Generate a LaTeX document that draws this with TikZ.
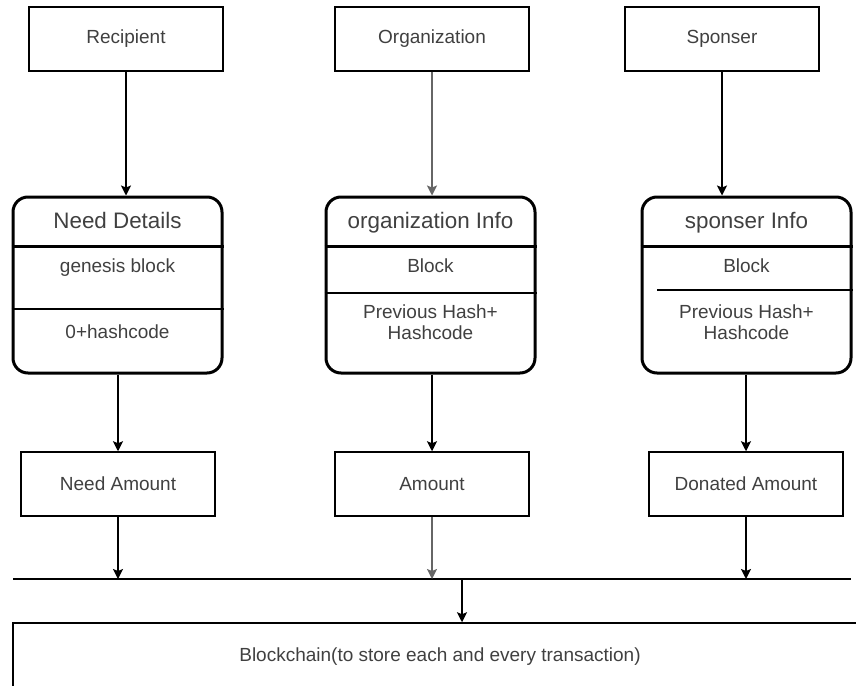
\documentclass[tikz,border=0pt]{standalone}
\usepackage{fontspec}
\setmainfont{Liberation Sans}
\usepackage{tikz}
\usetikzlibrary{arrows.meta}

\tikzset{
  box/.style={draw, line width=1.5pt, minimum width=194pt, minimum height=64pt, inner sep=0pt,
    font=\fontsize{19}{22}\selectfont, text=black!75},
  infobox/.style={draw, line width=3pt, rounded corners=15pt, minimum width=209pt, minimum height=176pt, inner sep=0pt},
  head/.style={font=\fontsize{22.4}{26}\selectfont, text=black!75, inner sep=0pt, text height=16pt, text depth=5pt},
  txt/.style={font=\fontsize{19}{22}\selectfont, text=black!75, inner sep=0pt, text height=14pt, text depth=4pt},
  twoline/.style={font=\fontsize{19}{21}\selectfont, text=black!75, inner sep=0pt, align=center},
  link/.style={line width=1.5pt, -{Stealth[length=10pt,width=10pt,inset=2pt]}}
}

\begin{document}
\begin{tikzpicture}[x=1pt,y=-1pt]
\useasboundingbox (0,0) rectangle (856,685);

% Top boxes
\node[box] (rec) at (126,39) {Recipient};     % Recipient
\node[box] (org) at (432,39) {Organization};  % Organization
\node[box] (spo) at (722,39) {Sponser};       % Sponser

% Rounded info boxes
\node[infobox] (need) at (117.5,285) {};   % Need Details
\node[infobox] (oinfo) at (430.5,285) {};  % organization Info
\node[infobox] (sinfo) at (746.5,285) {};  % sponser Info

% Dividers in the info boxes
\draw[line width=3pt] (need.west |- 0,246) -- (need.east |- 0,246);
\draw[line width=1.5pt] (need.west |- 0,309) -- (need.east |- 0,309);
\draw[line width=3pt] (oinfo.west |- 0,246) -- (oinfo.east |- 0,246);
\draw[line width=1.5pt] (oinfo.west |- 0,293) -- (oinfo.east |- 0,293);
\draw[line width=3pt] (sinfo.west |- 0,246) -- (sinfo.east |- 0,246);
\draw[line width=1.5pt] (657,290) -- (sinfo.east |- 0,290); % short line

% Texts of the info boxes
\node[head] (needh) at (117.5,223) {Need Details};
\node[txt] (needb) at (117.5,267) {genesis block};
\node[txt] (needc) at (117.5,333) {0+hashcode};
\node[head] (oinfoh) at (430.5,223) {organization Info};
\node[txt] (oinfob) at (430.5,267) {Block};
\node[twoline] (oinfoc) at (430.5,322.5) {Previous Hash+\\Hashcode};
\node[head] (sinfoh) at (746.5,223) {sponser Info};
\node[txt] (sinfob) at (746.5,267) {Block};
\node[twoline] (sinfoc) at (746.5,322.5) {Previous Hash+\\Hashcode};

% Amount boxes
\node[box] (needamt) at (118,484) {Need Amount};    % Need Amount
\node[box] (amt) at (432,484) {Amount};             % Amount
\node[box] (donamt) at (746,484) {Donated Amount};  % Donated Amount

% Bus line and blockchain
\coordinate (busL) at (13,579);   % left end
\coordinate (busR) at (851,579);  % right end
\coordinate (busM) at (462,579);  % joint
\node[box, minimum width=854pt, minimum height=68pt] (chain) at (440,657)
  {Blockchain(to store each and every transaction)};

% Arrows from the top boxes
\draw[link] (rec.south) -- (rec.south |- need.north);
\draw[link, black!60] (org.south) -- (org.south |- oinfo.north);
\draw[link] (spo.south) -- (spo.south |- sinfo.north);

% Arrows to the amount boxes
\draw[link] (needamt.north |- need.south) -- (needamt.north);
\draw[link] (amt.north |- oinfo.south) -- (amt.north);
\draw[link] (donamt.north |- sinfo.south) -- (donamt.north);

% Arrows to the bus line
\draw[line width=1.5pt] (busL) -- (busR);
\draw[link] (needamt.south) -- (needamt.south |- busL);
\draw[link, black!60] (amt.south) -- (amt.south |- busL);
\draw[link] (donamt.south) -- (donamt.south |- busL);
\draw[link] (busM) -- (busM |- chain.north);

\end{tikzpicture}
\end{document}
